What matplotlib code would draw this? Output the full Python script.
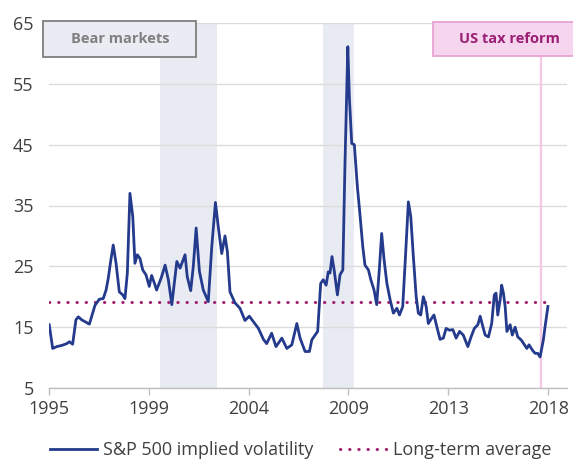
import matplotlib
matplotlib.use("Agg")
import matplotlib.pyplot as plt
from matplotlib.patches import Rectangle
import numpy as np

plt.rcParams['font.family'] = ['Open Sans', 'DejaVu Sans']

# ---- data ----
years = [1995.01, 1995.17, 1995.35, 1995.59, 1995.82, 1995.94, 1996.09, 1996.24, 1996.35, 1996.51,
         1996.66, 1996.86, 1997.01, 1997.12, 1997.32, 1997.50, 1997.63, 1997.73, 1997.84, 1997.96,
         1998.09, 1998.24, 1998.40, 1998.50, 1998.61, 1998.73, 1998.86, 1998.96, 1999.07, 1999.19,
         1999.32, 1999.47, 1999.62, 1999.73, 1999.84, 1999.96, 2000.19, 2000.35, 2000.50, 2000.66,
         2000.89, 2001.04, 2001.27, 2001.37, 2001.53, 2001.65, 2001.78, 2001.93, 2002.11, 2002.34,
         2002.50, 2002.67, 2002.80, 2002.96, 2003.11, 2003.22, 2003.34, 2003.57, 2003.80, 2004.03,
         2004.23, 2004.42, 2004.65, 2004.88, 2005.03, 2005.26, 2005.46, 2005.73, 2005.96, 2006.19,
         2006.42, 2006.57, 2006.80, 2007.00, 2007.11, 2007.26, 2007.38, 2007.52, 2007.64, 2007.77,
         2007.87, 2007.95, 2008.04, 2008.14, 2008.29, 2008.41, 2008.54, 2008.64, 2008.77, 2008.84,
         2008.95, 2009.07, 2009.21, 2009.33, 2009.46, 2009.56, 2009.72, 2009.83, 2009.98, 2010.10,
         2010.22, 2010.33, 2010.44, 2010.57, 2010.72, 2010.87, 2011.03, 2011.15, 2011.30, 2011.41,
         2011.56, 2011.67, 2011.79, 2011.92, 2012.02, 2012.13, 2012.25, 2012.38, 2012.48, 2012.64,
         2012.74, 2012.87, 2013.02, 2013.17, 2013.30, 2013.45, 2013.61, 2013.76, 2013.92, 2014.09,
         2014.30, 2014.45, 2014.60, 2014.76, 2014.87, 2014.97, 2015.10, 2015.25, 2015.40, 2015.52,
         2015.60, 2015.68, 2015.79, 2015.86, 2015.94, 2016.02, 2016.10, 2016.25, 2016.35, 2016.48,
         2016.60, 2016.76, 2016.91, 2017.02, 2017.12, 2017.28, 2017.40, 2017.52, 2017.63, 2017.78,
         2017.86, 2017.99]
vix = [15.4, 11.5, 11.8, 12.0, 12.3, 12.6, 12.2, 16.2, 16.7, 16.2,
       15.9, 15.5, 17.3, 18.6, 19.6, 19.7, 21.1, 23.0, 25.8, 28.5,
       25.5, 20.8, 20.3, 19.7, 23.9, 37.0, 33.2, 25.5, 26.9, 26.3,
       24.4, 23.6, 21.7, 23.5, 22.4, 21.1, 23.3, 25.2, 22.8, 18.7,
       25.8, 24.7, 26.9, 23.3, 21.0, 25.0, 31.3, 24.2, 21.1, 19.2,
       28.2, 35.5, 31.5, 27.1, 30.0, 27.4, 20.8, 19.0, 18.1, 16.1,
       16.8, 15.9, 14.8, 13.0, 12.3, 14.0, 11.8, 13.2, 11.5, 12.1,
       15.6, 13.2, 11.0, 11.0, 12.9, 13.7, 14.3, 22.2, 22.8, 21.9,
       24.1, 23.9, 26.6, 24.4, 20.3, 23.6, 24.4, 42.0, 61.1, 52.9,
       45.2, 45.0, 38.1, 33.5, 28.2, 25.2, 24.4, 22.8, 21.1, 18.7,
       24.4, 30.4, 26.1, 22.2, 19.5, 17.3, 18.1, 17.0, 18.4, 25.5,
       35.6, 33.2, 26.6, 20.0, 17.3, 17.0, 20.0, 18.4, 15.6, 16.5,
       17.0, 15.1, 13.0, 13.2, 14.8, 14.5, 14.6, 13.2, 14.3, 13.7,
       11.8, 13.4, 14.8, 15.4, 16.8, 15.4, 13.7, 13.4, 15.6, 20.3,
       20.6, 17.0, 19.5, 21.9, 20.6, 18.4, 14.3, 15.4, 13.7, 15.0,
       13.4, 12.9, 12.1, 11.5, 12.1, 11.2, 10.7, 10.7, 10.1, 12.9,
       15.1, 18.4]
long_term_avg = 19.1
bear_starts = [2000.12, 2007.61]
bear_ends = [2002.74, 2009.06]
tax_reform_year = 2017.68
x_tick_years = [1995.0, 1999.6, 2004.2, 2008.8, 2013.4, 2018.0]
x_tick_labels = ['1995', '1999', '2004', '2009', '2013', '2018']
y_ticks = [5, 15, 25, 35, 45, 55, 65]

# ---- styling ----
navy = '#243a8c'
purple = '#a0206f'
shade = '#e9ebf3'
pink_line = '#f6c8e6'
txt = '#404040'

fig = plt.figure(figsize=(5.73, 4.59), dpi=100)
ax = fig.add_axes([49/573, 71/459, 518/573, 365/459])

for s, e in zip(bear_starts, bear_ends):
    ax.axvspan(s, e, color=shade, lw=0, zorder=0)

ax.set_ylim(5, 65)
ax.set_xlim(1995.0, 2018.87)
ax.set_yticks(y_ticks)
ax.set_xticks(x_tick_years)
ax.set_xticklabels(x_tick_labels)
ax.yaxis.grid(True, color='#dcdcdc', lw=1.0, zorder=0.5)
ax.set_axisbelow(True)

for sp in ['left', 'right', 'top']:
    ax.spines[sp].set_visible(False)
ax.spines['bottom'].set_color('#bfbfbf')
ax.spines['bottom'].set_linewidth(1.0)
ax.tick_params(axis='y', length=0, pad=11, labelsize=13, labelcolor=txt)
ax.tick_params(axis='x', length=5, width=1.0, color='#bfbfbf', pad=4, labelsize=13, labelcolor=txt)

ax.axvline(tax_reform_year, ymin=0, ymax=0.909, color=pink_line, lw=1.6, zorder=1)

ax.plot([1995.0, 2018.0], [long_term_avg, long_term_avg], color=purple, lw=2.2,
        linestyle=(0, (0.1, 2.9)), dash_capstyle='round', zorder=2,
        label='Long-term average')
ax.plot(years, vix, color=navy, lw=2.0, zorder=3, solid_joinstyle='round',
        label='S&P 500 implied volatility')

# annotation boxes
ax.add_patch(Rectangle((-0.0116, 0.9068), 0.2954, 0.0987, transform=ax.transAxes,
                       facecolor='#eaebf3', edgecolor='#7f7f7f', lw=1.3, clip_on=False, zorder=4))
ax.text(0.137, 0.957, 'Bear markets', transform=ax.transAxes, ha='center', va='center',
        fontsize=10.5, fontweight='bold', color='#808080', zorder=5)
ax.add_patch(Rectangle((0.7413, 0.9096), 0.32, 0.093, transform=ax.transAxes,
                       facecolor='#f6d6ee', edgecolor='#e8a3d3', lw=1.3, clip_on=False, zorder=4))
ax.text(0.888, 0.957, 'US tax reform', transform=ax.transAxes, ha='center', va='center',
        fontsize=10.5, fontweight='bold', color='#9b1f74', zorder=5)

h, l = ax.get_legend_handles_labels()
leg = fig.legend(h[::-1], l[::-1], loc='center', bbox_to_anchor=(301/573, 1 - 450/459),
                 ncol=2, frameon=False, fontsize=13, handlelength=2.6, handletextpad=0.33,
                 columnspacing=1.5, labelcolor=txt, borderpad=0.0, borderaxespad=0.0)

fig.savefig('out.png', dpi=100)
